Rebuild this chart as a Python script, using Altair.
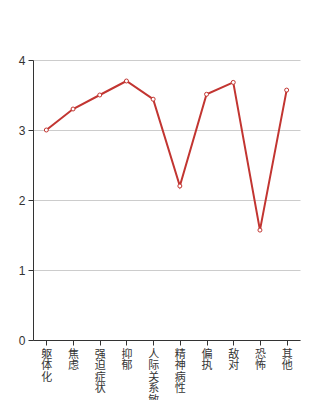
import altair as alt
import pandas as pd

categories = ["躯体化", "焦虑", "强迫症状", "抑郁", "人际关系敏感", "精神病性", "偏执", "敌对", "恐怖", "其他"]
values = [3.00, 3.30, 3.50, 3.70, 3.44, 2.20, 3.51, 3.68, 1.57, 3.57]

df = pd.DataFrame({"cat": categories, "val": values})

CJK = "Noto Sans CJK SC"
LAT = "Liberation Sans"
RED = "#c23531"

x = alt.X("cat:N", sort=categories, title=None,
          scale=alt.Scale(paddingInner=0, paddingOuter=0),
          axis=alt.Axis(bandPosition=0, labelAngle=0, labelExpr="split(datum.label, '')",
                        labelLineHeight=11.5, labelFontSize=11, labelFont=CJK,
                        labelColor="#333", domainColor="#333", tickColor="#333",
                        labelBaseline="top", labelPadding=3, grid=False, tickSize=5))
y = alt.Y("val:Q", title=None,
          scale=alt.Scale(domain=[0, 4]),
          axis=alt.Axis(values=[0, 1, 2, 3, 4], labelFontSize=12, labelFont=LAT,
                        labelColor="#333", domainColor="#333", tickColor="#333",
                        gridColor="#cccccc", tickSize=5, labelPadding=3))

line = alt.Chart(df).mark_line(color=RED, strokeWidth=2).encode(x=x, y=y)
pts = alt.Chart(df).mark_point(shape="circle", filled=True, fill="white", stroke=RED,
                                strokeWidth=1, size=16, opacity=1).encode(x=x, y=y)

chart = (line + pts).properties(
    width=267, height=280,
    autosize=alt.AutoSizeParams(type="none"),
    padding={"left": 33, "top": 60, "right": 34, "bottom": 60},
).configure_view(stroke=None).configure_axisX(labelAlign="center")

chart.save("out.html", embed_options={"renderer": "svg", "actions": False})
